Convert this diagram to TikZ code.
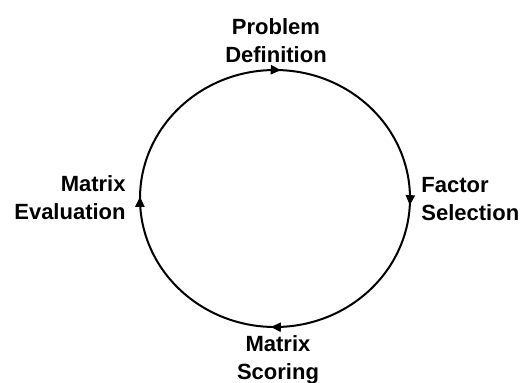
\documentclass[tikz,border=0pt]{standalone}
\usepackage{fontspec}
\setmainfont{Liberation Sans}
\usepackage{tikz}
\usetikzlibrary{arrows.meta,decorations.markings,positioning}
\tikzset{
  loopline/.style={black,line width=1pt},
  turntip/.style={postaction={decorate},decoration={markings,
    mark=at position 0.008 with {\arrow{Triangle[length=5pt,width=4.6pt]}},
    mark=at position 0.255 with {\arrow{Triangle[length=5pt,width=4.6pt]}},
    mark=at position 0.502 with {\arrow{Triangle[length=5pt,width=4.6pt]}},
    mark=at position 0.757 with {\arrow{Triangle[length=5pt,width=4.6pt]}}}},
  lab/.style={font=\bfseries\fontsize{11}{14}\selectfont,inner sep=0pt},
}

\begin{document}
\begin{tikzpicture}[x=0.5pt,y=-0.5pt]
  \path[use as bounding box] (0,0) rectangle (521,382);

  % the cycle, drawn clockwise on screen
  \coordinate (hub) at (275,198.5);
  \draw[loopline,turntip] (hub) ellipse [x radius=135, y radius=128.5];

  \node[lab,align=center] (define) at (276,41) {Problem\\Definition};
  \node[lab,align=left,anchor=west] (factor) at (421,199) {Factor\\Selection};
  \node[lab,align=center] (scoring) at (278,360) {Matrix\\Scoring};
  \node[lab,align=right,anchor=east] (evaluate) at (126,198) {Matrix\\Evaluation};
\end{tikzpicture}
\end{document}
